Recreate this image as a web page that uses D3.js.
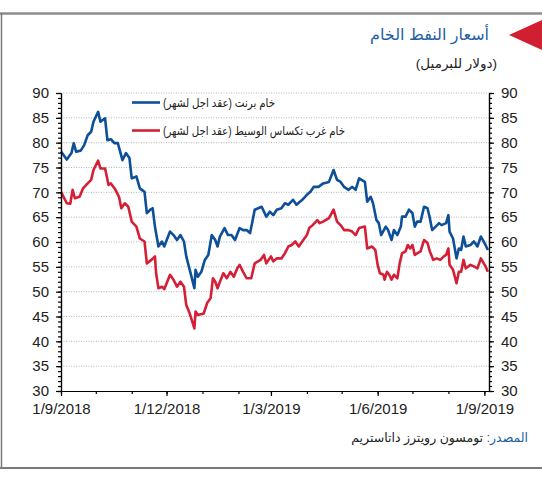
<!DOCTYPE html>
<html>
<head>
<meta charset="utf-8">
<script src="https://cdn.jsdelivr.net/npm/d3@7"></script>
<style>
  body { margin: 0; background: #fff; }
  text { font-family: "Liberation Sans", "DejaVu Sans", Arial, sans-serif; }
</style>
</head>
<body>
<script>
// brent (blue)
var brentDates = ["2018-09-01","2018-09-06","2018-09-10","2018-09-12","2018-09-14","2018-09-18","2018-09-21","2018-09-24","2018-09-27","2018-09-29",
"2018-10-03","2018-10-05","2018-10-09","2018-10-11","2018-10-14","2018-10-17","2018-10-20","2018-10-24","2018-10-27","2018-10-30",
"2018-11-01","2018-11-05","2018-11-08","2018-11-12","2018-11-14","2018-11-17","2018-11-19","2018-11-21","2018-11-24","2018-11-27","2018-11-29",
"2018-12-04","2018-12-07","2018-12-10","2018-12-13","2018-12-16","2018-12-18","2018-12-21","2018-12-25","2018-12-26","2018-12-28","2018-12-31",
"2019-01-03","2019-01-06","2019-01-09","2019-01-12","2019-01-14","2019-01-16","2019-01-20","2019-01-23","2019-01-26","2019-01-29",
"2019-02-02","2019-02-05","2019-02-08","2019-02-11","2019-02-13","2019-02-15","2019-02-21","2019-02-25","2019-02-28",
"2019-03-03","2019-03-06","2019-03-10","2019-03-13","2019-03-16","2019-03-20","2019-03-23","2019-03-28",
"2019-04-01","2019-04-04","2019-04-07","2019-04-11","2019-04-15","2019-04-20","2019-04-24","2019-04-27","2019-04-30",
"2019-05-03","2019-05-07","2019-05-10","2019-05-13","2019-05-16","2019-05-21","2019-05-23","2019-05-26","2019-05-28","2019-05-31",
"2019-06-02","2019-06-04","2019-06-08","2019-06-10","2019-06-13","2019-06-15","2019-06-18","2019-06-21","2019-06-22","2019-06-25","2019-06-28",
"2019-07-01","2019-07-03","2019-07-05","2019-07-08","2019-07-11","2019-07-14","2019-07-16","2019-07-18","2019-07-21","2019-07-24","2019-07-26","2019-07-30",
"2019-08-01","2019-08-02","2019-08-05","2019-08-08","2019-08-10","2019-08-12","2019-08-14","2019-08-16","2019-08-20","2019-08-23","2019-08-26","2019-08-29",
"2019-09-02","2019-09-04"];
var brentValues = [78.2,76.6,77.9,79.9,78.2,78.4,79.5,81.5,82.2,84.2,
86.2,84.2,84.9,80.5,80.7,79.9,79.9,76.5,77.9,76.9,
72.8,73.2,70.8,70.1,65.8,66.5,66.8,63.1,59.1,60.1,59.1,
62.1,61.4,60.4,61.4,60.1,57.1,54.4,50.7,54.4,53.0,54.0,
56.4,57.4,61.4,60.4,59.1,61.1,62.8,61.4,61.4,60.4,
62.8,62.4,62.4,61.8,64.1,66.5,67.1,65.1,66.1,
65.4,66.5,66.8,67.8,67.5,68.5,67.5,68.5,
69.5,70.1,71.1,71.1,71.8,72.1,74.5,72.5,72.1,
71.1,70.5,71.1,70.5,72.8,72.1,68.1,69.1,67.8,64.4,
63.8,61.4,63.1,62.4,60.4,62.4,61.4,63.1,65.1,65.1,66.5,
65.8,63.1,64.1,64.1,67.1,66.8,64.8,62.4,63.1,63.8,63.4,63.8,
65.4,62.1,60.7,56.7,58.7,58.4,61.1,59.1,59.4,60.1,59.1,61.1,
59.4,58.4];

// wti (red)
var wtiDates = ["2018-09-01","2018-09-06","2018-09-09","2018-09-11","2018-09-13","2018-09-17","2018-09-20","2018-09-24","2018-09-27","2018-09-29",
"2018-10-03","2018-10-05","2018-10-09","2018-10-12","2018-10-14","2018-10-18","2018-10-21","2018-10-23","2018-10-26","2018-10-29",
"2018-11-01","2018-11-05","2018-11-08","2018-11-12","2018-11-14","2018-11-18","2018-11-21","2018-11-22","2018-11-24","2018-11-27","2018-11-29",
"2018-12-04","2018-12-07","2018-12-10","2018-12-13","2018-12-16","2018-12-18","2018-12-21","2018-12-25","2018-12-26","2018-12-28",
"2019-01-02","2019-01-05","2019-01-08","2019-01-10","2019-01-12","2019-01-14","2019-01-16","2019-01-19","2019-01-22","2019-01-25","2019-01-28","2019-01-31",
"2019-02-02","2019-02-05","2019-02-08","2019-02-12","2019-02-15","2019-02-20","2019-02-23","2019-02-25",
"2019-03-01","2019-03-03","2019-03-06","2019-03-10","2019-03-13","2019-03-16","2019-03-19","2019-03-22","2019-03-25","2019-03-28",
"2019-04-01","2019-04-03","2019-04-06","2019-04-10","2019-04-12","2019-04-15","2019-04-20","2019-04-24","2019-04-27","2019-04-30",
"2019-05-03","2019-05-07","2019-05-10","2019-05-13","2019-05-16","2019-05-21","2019-05-23","2019-05-27","2019-05-30",
"2019-06-01","2019-06-03","2019-06-06","2019-06-07","2019-06-09","2019-06-11","2019-06-13","2019-06-15","2019-06-18","2019-06-20","2019-06-22","2019-06-25","2019-06-27","2019-06-29",
"2019-07-01","2019-07-03","2019-07-05","2019-07-08","2019-07-11","2019-07-14","2019-07-16","2019-07-19","2019-07-22","2019-07-25","2019-07-28","2019-07-30",
"2019-08-01","2019-08-02","2019-08-05","2019-08-08","2019-08-10","2019-08-12","2019-08-14","2019-08-16","2019-08-20","2019-08-23","2019-08-26","2019-08-29",
"2019-09-02","2019-09-04"];
var wtiValues = [70.1,67.8,67.7,70.5,68.8,69.1,70.8,71.8,72.5,74.5,
76.4,74.8,74.8,71.5,71.8,70.5,69.1,66.8,67.8,67.1,
64.1,63.1,60.7,60.1,55.7,56.4,57.1,53.7,50.7,51.0,50.5,
53.4,52.4,51.0,52.0,51.0,47.3,45.6,42.6,46.0,45.3,
45.6,47.7,48.7,52.7,52.0,50.7,52.0,53.7,52.7,54.0,53.0,54.7,
55.4,54.0,52.7,52.7,55.7,56.4,57.4,55.7,
57.1,56.1,56.7,56.7,57.7,59.1,59.4,60.1,59.1,60.1,
61.4,62.8,63.4,64.4,63.8,64.1,64.8,66.5,64.1,63.4,
62.4,62.4,62.1,61.4,62.8,63.1,58.7,59.1,58.4,
55.4,53.7,53.4,52.4,54.0,53.4,52.4,53.4,52.7,55.7,57.7,58.1,59.4,58.7,
59.4,57.4,57.7,58.1,60.4,59.8,58.1,56.4,56.7,56.4,57.1,57.4,
58.7,55.4,54.4,51.7,54.0,54.0,56.4,54.7,55.4,55.1,54.7,56.7,
55.1,54.0];

var seriesNames = ["خام برنت (عقد اجل لشهر)", "خام غرب تكساس الوسيط (عقد اجل لشهر)"];
var seriesColors = ["#0d4f98", "#d41f36"];
var title = "أسعار النفط الخام";
var subtitle = "(دولار للبرميل)";
var sourceLabel = "المصدر: ";
var sourceText = "تومسون رويترز داتاستريم";
var xStart = "2018-09-01", xEnd = "2019-09-05";
var majorTickDates = ["2018-09-01","2018-12-01","2019-03-01","2019-06-01","2019-09-01"];
var yMin = 30, yMax = 90;

var width = 542, height = 484;
var fulldate = d3.timeParse("%Y-%m-%d");
var fmt = d3.timeFormat("%-d/%-m/%Y");

var svg = d3.select("body").append("svg")
  .attr("width", width).attr("height", height);

// frame
svg.append("line").attr("x1", 0).attr("x2", width).attr("y1", 13.5).attr("y2", 13.5)
  .attr("stroke", "#8c8c8c").attr("stroke-width", 2.5);
svg.append("line").attr("x1", 1.5).attr("x2", 1.5).attr("y1", 13).attr("y2", 468)
  .attr("stroke", "#7a7a7a").attr("stroke-width", 1.5);
svg.append("line").attr("x1", 0).attr("x2", width).attr("y1", 468).attr("y2", 468)
  .attr("stroke", "#7a7a7a").attr("stroke-width", 2);

// header
svg.append("path").attr("d", "M509,35L544,19L544,51Z").attr("fill", "#d01f31");
svg.append("text").attr("x", 489).attr("y", 40).attr("direction", "rtl")
  .attr("text-anchor", "start").attr("font-size", 16).attr("fill", "#1f5ea6").text(title);
svg.append("text").attr("x", 497).attr("y", 68).attr("direction", "rtl")
  .attr("text-anchor", "start").attr("font-size", 13.5).attr("fill", "#222").text(subtitle);

var x = d3.scaleTime().domain([fulldate(xStart), fulldate(xEnd)]).range([61, 489]);
var y = d3.scaleLinear().domain([yMin, yMax]).range([391, 93]);

// dotted grid
svg.append("g").selectAll("line")
  .data(d3.range(yMin + 5, yMax + 1, 5))
  .enter().append("line")
  .attr("x1", 61).attr("x2", 489)
  .attr("y1", d => y(d)).attr("y2", d => y(d))
  .attr("stroke", "#b5b5b5").attr("stroke-width", 1).attr("stroke-dasharray", "1,1.5");

// lines
var brent = brentDates.map((d, i) => ({ date: fulldate(d), v: brentValues[i] }));
var wti = wtiDates.map((d, i) => ({ date: fulldate(d), v: wtiValues[i] }));
var line = d3.line().x(d => x(d.date)).y(d => y(d.v));

[wti, brent].forEach(function (s, i) {
  svg.append("path").datum(s)
    .attr("fill", "none")
    .attr("stroke", i == 0 ? seriesColors[1] : seriesColors[0])
    .attr("stroke-width", 2.6)
    .attr("stroke-linejoin", "round")
    .attr("d", line);
});

// axes
function styleAxis(g) {
  g.selectAll("path, line").attr("stroke", "#000").attr("stroke-width", 1.2);
  g.selectAll("text").attr("font-size", 15).attr("fill", "#222")
    .attr("font-family", "'Liberation Sans', Arial, sans-serif");
}
var minorY = d3.range(yMin, yMax + 1, 1);
var majorY = d3.range(yMin, yMax + 1, 5);

svg.append("g").attr("transform", "translate(61,0)")
  .call(d3.axisLeft(y).tickValues(minorY).tickSize(3).tickSizeOuter(0).tickFormat(""))
  .call(styleAxis);
svg.append("g").attr("transform", "translate(61,0)")
  .call(d3.axisLeft(y).tickValues(majorY).tickSize(5).tickSizeOuter(0).tickPadding(7))
  .call(styleAxis);
svg.append("g").attr("transform", "translate(489,0)")
  .call(d3.axisRight(y).tickValues(minorY).tickSize(3).tickSizeOuter(0).tickFormat(""))
  .call(styleAxis);
svg.append("g").attr("transform", "translate(489,0)")
  .call(d3.axisRight(y).tickValues(majorY).tickSize(5).tickSizeOuter(0).tickPadding(7))
  .call(styleAxis);

svg.append("g").attr("transform", "translate(0,391)")
  .call(d3.axisBottom(x).ticks(d3.timeMonth.every(1)).tickSize(3).tickSizeOuter(0).tickFormat(""))
  .call(styleAxis);
svg.append("g").attr("transform", "translate(0,391)")
  .call(d3.axisBottom(x).tickValues(majorTickDates.map(fulldate)).tickSize(5).tickSizeOuter(0)
    .tickPadding(7).tickFormat(fmt))
  .call(styleAxis);

// legend
var legendY = [102.5, 130.5], legendRight = [275, 345], legendWidth = [112, 182];
seriesNames.forEach(function (name, i) {
  svg.append("line").attr("x1", 132).attr("x2", 160)
    .attr("y1", legendY[i]).attr("y2", legendY[i])
    .attr("stroke", seriesColors[i]).attr("stroke-width", 2.6);
  svg.append("text").attr("x", legendRight[i]).attr("y", legendY[i] + 4.5)
    .attr("direction", "rtl").attr("text-anchor", "start")
    .attr("textLength", legendWidth[i]).attr("lengthAdjust", "spacingAndGlyphs")
    .attr("font-size", 12).attr("fill", "#222").text(name);
});

// source
var src = svg.append("text").attr("x", 528).attr("y", 442)
  .attr("direction", "rtl").attr("text-anchor", "start").attr("font-size", 12.5);
src.append("tspan").attr("fill", "#1f5ea6").text(sourceLabel);
src.append("tspan").attr("fill", "#222").text(sourceText);
</script>
</body>
</html>
